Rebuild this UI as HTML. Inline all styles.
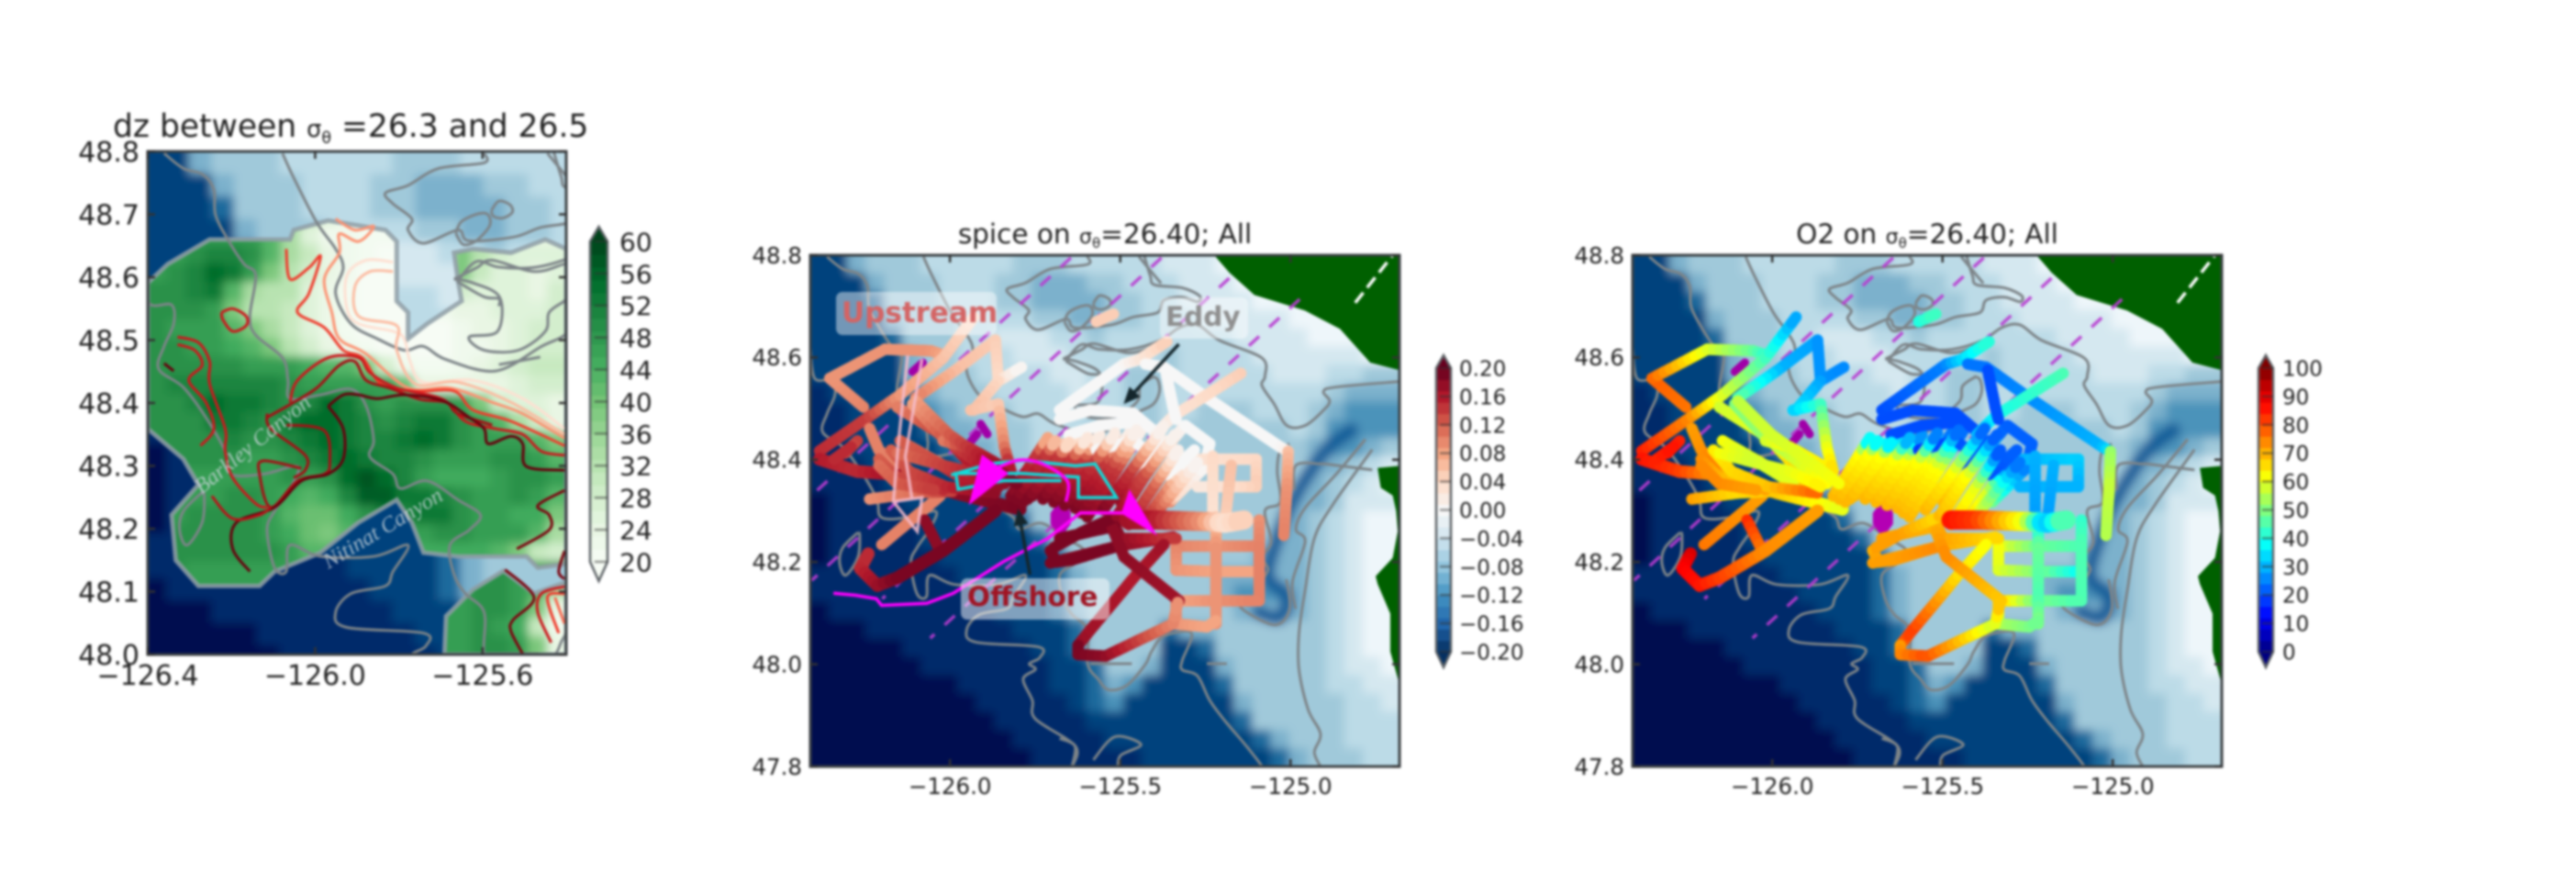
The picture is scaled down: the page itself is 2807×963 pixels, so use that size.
<!DOCTYPE html>
<html lang="en">
<head>
<meta charset="utf-8">
<title>dz, spice and O2 maps</title>
<style>
html,body{margin:0;padding:0;background:#fff;width:2807px;height:963px;overflow:hidden}
svg{display:block;filter:blur(1.2px)}
text{font-family:"DejaVu Sans","Liberation Sans",sans-serif;fill:#222}
</style>
</head>
<body>
<svg id="fig" xmlns="http://www.w3.org/2000/svg" width="2807" height="963" viewBox="0 0 2807 963">
<defs>
<filter id="soft" filterUnits="userSpaceOnUse" x="0" y="0" width="2807" height="963"><feGaussianBlur stdDeviation="5"/></filter>
<clipPath id="clip-p1"><rect x="161" y="165" width="456" height="548"/></clipPath>
<clipPath id="clip-p2"><rect x="883" y="278" width="642" height="557"/></clipPath>
<clipPath id="clip-p3"><rect x="1779" y="278" width="642" height="557"/></clipPath>
</defs>
<rect x="0" y="0" width="2807" height="963" fill="#fff"/>

<g id="panel-dz"></g>
<g id="panel-spice"></g>
<g id="panel-o2"></g>

<text x="123" y="149" font-size="34.5">dz between <tspan font-size="25.5">σ</tspan><tspan font-size="17.5" dy="7">θ</tspan><tspan dy="-7"> =26.3 and 26.5</tspan></text>
<text x="1204" y="265" text-anchor="middle" font-size="29.5">spice on <tspan font-size="22">σ</tspan><tspan font-size="15" dy="5">θ</tspan><tspan dy="-5">=26.40; All</tspan></text>
<text x="2100" y="265" text-anchor="middle" font-size="29.5">O2 on <tspan font-size="22">σ</tspan><tspan font-size="15" dy="5">θ</tspan><tspan dy="-5">=26.40; All</tspan></text>

<g id="dz-annotations">
<text transform="translate(280,490) rotate(-39)" text-anchor="middle" font-size="24" font-style="italic" style="font-family:'Liberation Serif',serif;fill:#ccd6dc;opacity:.8">Barkley Canyon</text>
<text transform="translate(421,582) rotate(-31)" text-anchor="middle" font-size="24" font-style="italic" style="font-family:'Liberation Serif',serif;fill:#ccd6dc;opacity:.8">Nitinat Canyon</text>
</g>

<g id="spice-annotations">
<rect x="911" y="318" width="175" height="47" rx="7" fill="#fff" opacity=".45"/>
<text x="917" y="351" font-size="31" font-weight="bold" style="fill:#d46464">Upstream</text>
<rect x="1264" y="324" width="96" height="45" rx="7" fill="#fff" opacity=".45"/>
<text x="1270" y="355" font-size="29.5" font-weight="bold" style="fill:#8f8f8f">Eddy</text>
<rect x="1047" y="630" width="162" height="45" rx="7" fill="#fff" opacity=".5"/>
<text x="1054" y="660" font-size="29.5" font-weight="bold" style="fill:#a01423">Offshore</text>
</g>
</svg>

<script>
// ---------- shared map values (degrees) ----------
const bathyColors = ["#000f50","#00296b","#03437d","#1c6a9d","#4b93ba","#7cb1cc","#a0c9da","#bcdbe7","#d5e8f0","#eef6fa"];
const bathyRows = [
[2,2,5,6,6,6,7,7,7,7,7,6,6,6,7,7,7,7,7,8,8,8,9,9,9,9,9,9,9,9,9,9],
[2,2,2,5,6,6,6,7,7,7,6,6,5,5,5,6,6,7,7,7,8,8,8,9,9,9,9,9,9,9,9,9],
[2,2,2,3,6,6,6,7,7,7,6,6,5,5,5,5,6,6,7,7,8,8,8,8,9,9,9,9,9,9,9,9],
[2,2,2,2,5,6,6,6,7,7,7,7,6,6,5,5,6,6,7,7,7,8,8,8,8,8,9,9,9,9,9,9],
[2,2,2,2,3,6,6,6,7,7,8,8,8,7,7,6,7,7,7,7,7,7,7,8,8,8,8,9,9,9,9,9],
[2,2,2,2,2,5,6,6,7,7,7,8,8,8,7,7,7,7,7,6,7,7,7,7,8,8,8,8,8,8,9,9],
[2,2,2,2,2,5,6,6,6,7,7,7,7,8,8,7,7,6,6,6,7,7,7,7,7,8,8,8,7,7,6,6],
[1,2,2,2,2,3,5,6,6,6,7,7,7,7,8,7,7,6,6,7,7,7,7,7,7,7,7,7,6,5,5,5],
[1,1,2,2,2,2,4,5,6,6,6,7,7,7,7,7,7,6,6,7,7,6,6,6,7,7,7,6,5,4,4,4],
[1,1,2,2,2,2,3,5,5,6,6,6,7,7,7,6,6,6,6,7,6,6,6,6,6,6,7,6,4,4,4,4],
[1,1,2,2,2,2,2,3,5,5,6,6,7,7,6,6,6,6,6,6,6,6,6,6,6,6,6,5,4,4,5,6],
[1,1,1,2,2,2,2,2,3,5,5,6,6,6,6,6,6,6,6,6,6,6,6,6,6,6,6,5,5,6,7,8],
[1,1,1,1,2,2,2,2,2,3,5,6,6,6,6,6,6,6,6,6,6,6,6,6,6,6,6,5,6,7,8,9],
[0,1,1,1,1,2,2,2,2,2,3,5,6,6,6,6,6,6,6,6,6,6,6,6,6,6,5,5,6,8,8,8],
[0,1,1,1,1,1,2,2,2,2,2,3,6,6,6,6,6,6,6,6,6,6,6,6,6,6,5,6,7,8,9,9],
[0,1,1,1,1,1,2,2,2,2,2,2,3,6,6,6,6,6,6,6,6,6,6,6,6,5,5,6,7,8,9,9],
[0,1,1,1,1,1,1,2,2,2,2,2,2,3,6,6,6,6,6,6,6,6,6,6,5,5,5,6,7,8,9,9],
[1,1,1,1,1,1,1,1,2,2,2,2,2,3,5,6,6,6,6,6,6,6,5,5,5,5,5,6,7,8,9,9],
[1,1,1,1,1,1,1,1,1,2,2,2,2,3,5,6,6,6,6,6,6,6,5,4,4,4,5,6,7,8,9,9],
[0,1,1,1,1,1,1,1,1,1,2,2,2,3,5,6,6,6,6,6,6,6,6,5,5,5,5,6,7,8,9,9],
[0,0,0,1,1,1,1,1,1,1,1,2,2,2,3,6,6,6,6,3,5,5,6,6,6,6,6,6,7,8,9,9],
[0,0,0,0,0,1,1,1,1,1,1,1,2,2,3,6,6,6,6,2,2,3,6,6,6,6,6,6,7,8,9,9],
[0,0,0,0,0,0,1,1,1,1,1,1,1,2,2,3,6,6,5,2,2,2,5,6,6,6,6,6,7,8,8,9],
[0,0,0,0,0,0,0,0,1,1,1,1,1,2,2,3,5,4,2,2,2,2,3,6,6,6,6,6,7,7,8,8],
[0,0,0,0,0,0,0,0,0,1,1,1,1,1,2,3,4,2,2,2,2,2,2,5,6,6,6,6,6,7,7,8],
[0,0,0,0,0,0,0,0,0,0,1,1,1,1,1,2,2,2,2,2,2,2,2,3,6,6,6,6,6,7,7,7],
[0,0,0,0,0,0,0,0,0,0,0,1,1,1,1,1,2,2,2,2,2,2,2,2,3,5,6,6,6,7,7,7],
[0,0,0,0,0,0,0,0,0,0,0,0,1,1,1,1,1,1,2,2,2,2,2,2,2,3,5,6,6,6,7,7]
];
const bathyLonStart = -126.41, bathyLonEnd = -124.68, bathyLatTop = 48.8, bathyLatBottom = 47.8;
const trenchLon = [-124.821,-124.898,-124.983,-125.032,-125.067,-125.011,-125.032,-125.095];
const trenchLat = [48.458,48.417,48.333,48.26,48.172,48.135,48.091,48.102];

// gray bathymetry contours, one array per line
const contourLon = [
[-126.361,-126.315,-126.27,-126.242,-126.238,-126.206,-126.17,-126.142,-126.156,-126.142,-126.078,-126.065,-126.06,-125.987,-125.914,-125.878,-125.86,-125.869,-125.814,-125.796,-125.732,-125.659,-125.605,-125.632,-125.678,-125.668,-125.641,-125.596,-125.596,-125.565,-125.534,-125.48,-125.426,-125.408,-125.372,-125.291,-125.318,-125.318,-125.273,-125.237,-125.191,-125.137,-125.101,-125.083],
[-126.41,-126.397,-126.343,-126.338,-126.361,-126.374,-126.315,-126.261,-126.215,-126.201,-126.124,-126.042,-126.06,-126.097,-126.115,-126.097,-126.069,-126.06,-125.987,-125.86,-125.778,-125.814,-125.832,-125.914,-125.951,-125.924,-125.741,-125.736,-125.767,-125.749,-125.785,-125.758,-125.749,-125.632,-125.641],
[-126.27,-126.315,-126.324,-126.306,-126.27,-126.265,-126.27],
[-126.078,-126.051,-125.996,-125.951,-125.933,-125.951,-125.914,-125.851,-125.787,-125.741,-125.687,-125.568,-125.459,-125.404,-125.385,-125.39,-125.408],
[-125.596,-125.596,-125.705,-125.778,-125.832,-125.814,-125.769,-125.778,-125.741,-125.659,-125.633,-125.525,-125.462,-125.39,-125.372,-125.318,-125.273,-125.268,-125.318,-125.399,-125.412,-125.43],
[-125.579,-125.561,-125.534,-125.529,-125.552,-125.574,-125.579],
[-125.664,-125.651,-125.615,-125.588,-125.583,-125.615,-125.646,-125.664],
[-125.668,-125.614,-125.577,-125.477,-125.404,-125.36],
[-125.668,-125.623,-125.559,-125.564,-125.632,-125.596,-125.514,-125.45,-125.441,-125.404],
[-125.445,-125.404,-125.38],
[-125.66,-125.615,-125.561,-125.471,-125.381,-125.327,-125.273,-125.21,-125.084,-125.075,-125.084,-125.048,-125.011,-124.957,-124.903,-124.885,-124.903,-124.867,-124.68],
[-125.66,-125.597,-125.561,-125.561],
[-125.561,-125.462],
[-125.003,-125.03,-125.039,-125.03,-125.075,-125.057,-125.083,-125.066,-125.084,-125.102,-125.146,-125.048,-125.003,-125.012],
[-124.76,-124.867,-124.912,-124.984,-124.989],
[-124.78,-124.867,-124.957,-124.984,-124.957,-124.994,-124.985],
[-124.76,-124.876,-124.93,-124.957,-124.975,-124.975,-124.948,-124.912,-124.93,-124.912],
[-125.579,-125.516,-125.439,-125.498,-125.507],
[-125.678,-125.633,-125.642],
[-125.588,-125.466],
[-125.246,-125.187]
];
const contourLat = [
[48.797,48.773,48.764,48.74,48.699,48.657,48.621,48.603,48.538,48.508,48.472,48.436,48.407,48.413,48.422,48.395,48.341,48.314,48.287,48.264,48.276,48.246,48.222,48.198,48.174,48.127,48.097,48.067,48.001,47.971,47.95,47.959,48.0,48.025,48.055,48.061,48.007,47.989,47.977,47.929,47.888,47.846,47.816,47.8],
[48.619,48.559,48.556,48.526,48.49,48.454,48.425,48.377,48.323,48.287,48.287,48.299,48.264,48.228,48.198,48.138,48.132,48.174,48.156,48.156,48.174,48.132,48.109,48.097,48.067,48.043,48.034,48.013,48.001,47.99,47.971,47.929,47.893,47.84,47.8],
[48.258,48.228,48.198,48.174,48.21,48.252,48.258],
[48.797,48.758,48.687,48.645,48.615,48.574,48.526,48.502,48.484,48.49,48.469,48.451,48.49,48.508,48.533,48.557,48.563],
[48.797,48.782,48.773,48.746,48.734,48.717,48.693,48.675,48.654,48.675,48.658,48.664,48.679,48.688,48.712,48.718,48.709,48.721,48.736,48.742,48.76,48.8],
[48.706,48.721,48.715,48.703,48.694,48.697,48.706],
[48.67,48.688,48.7,48.7,48.682,48.658,48.652,48.67],
[48.597,48.615,48.627,48.609,48.621,48.628],
[48.597,48.591,48.568,48.514,48.505,48.484,48.484,48.514,48.544,48.562],
[48.797,48.764,48.745],
[48.593,48.625,48.616,48.616,48.634,48.658,48.664,48.634,48.599,48.563,48.545,48.509,48.467,48.467,48.497,48.515,48.533,48.542,48.553],
[48.593,48.569,48.566,48.554],
[48.461,48.473],
[48.431,48.419,48.377,48.317,48.3,48.24,48.21,48.186,48.162,48.121,48.111,48.077,48.107,48.166],
[48.38,48.389,48.392,48.389,48.341],
[48.44,48.371,48.306,48.264,48.24,48.162,48.108],
[48.42,48.312,48.246,48.145,48.061,47.989,47.911,47.864,47.828,47.8],
[47.813,47.858,47.843,47.822,47.8],
[47.855,47.84,47.8],
[48.001,48.001],
[48.001,48.001]
];

// land polygons
const landLon = [
[-125.224,-125.18,-125.106,-124.958,-124.855,-124.766,-124.68,-124.68],
[-124.68,-124.744,-124.735,-124.70,-124.69,-124.685,-124.7,-124.75,-124.744,-124.707,-124.707,-124.68]
];
const landLat = [
[48.8,48.766,48.722,48.692,48.656,48.59,48.575,48.8],
[48.388,48.384,48.345,48.33,48.30,48.26,48.208,48.172,48.157,48.099,48.025,47.96]
];
const riverLon = [-124.81,-124.7];
const riverLat = [48.707,48.8];

// section lines: start and end in degrees
const sectionLonStart = [-125.645,-125.379,-125.18,-124.973];
const sectionLatStart = [48.795,48.795,48.755,48.714];
const sectionLonEnd = [-126.39,-126.406,-126.199,-126.058];
const sectionLatEnd = [48.34,48.164,48.128,48.051];
const mooringLon = -125.675, mooringLat = 48.285;
const moorLonA = [-126.11,-125.946,-125.91], moorLatA = [48.572,48.43,48.47];
const moorLonB = [-126.08,-125.92,-125.89], moorLatB = [48.59,48.45,48.45];

// tracks: lon, lat, spice and O2 per vertex
const trackLon = [
[-126.254,-126.353,-126.191,-126.056,-126.015],
[-126.383,-126.236,-126.146,-126.02,-125.93],
[-126.383,-126.272,-126.155,-125.984,-125.794],
[-126.155,-126.011,-125.867],
[-126.146,-126.02,-125.876],
[-126.11,-126.029,-125.84],
[-126.02,-125.948,-125.821],
[-125.867,-125.984,-126.101],
[-125.867,-125.858,-125.79],
[-125.858,-125.93],
[-125.939,-125.858,-125.84,-125.821],
[-126.2,-126.029],
[-126.074,-126.029],
[-126.24,-126.263,-126.213,-126.155,-126.02,-125.867],
[-126.236,-126.101,-125.993],
[-126.272,-126.308],
[-126.236,-126.209,-126.164],
[-126.209,-126.155,-126.074,-126.02],
[-126.146,-126.056,-125.939],
[-125.821,-125.735,-125.713],
[-125.785,-125.68,-125.668],
[-125.758,-125.657,-125.632],
[-125.695,-125.6,-125.56],
[-125.632,-125.53,-125.47],
[-125.597,-125.501,-125.435],
[-125.525,-125.426,-125.363],
[-125.498,-125.426,-125.318],
[-125.426,-125.359,-125.3],
[-125.354,-125.335,-125.246],
[-125.678,-125.588,-125.462,-125.399,-125.381],
[-125.678,-125.489,-125.444,-125.363],
[-125.426,-125.372,-125.246,-125.03,-125.007],
[-125.007,-125.011,-125.02],
[-125.146,-125.345,-125.399],
[-125.367,-125.345,-125.336],
[-125.309,-125.237,-125.246],
[-125.57,-125.52],
[-125.264,-125.101,-125.101,-125.273],
[-125.228,-125.228],
[-125.174,-125.192],
[-125.336,-125.21,-125.092],
[-125.336,-125.336,-125.21,-125.092],
[-125.092,-125.092,-125.092],
[-125.327,-125.228,-125.101],
[-125.219,-125.219,-125.219,-125.219],
[-125.336,-125.336,-125.246,-125.219],
[-125.705,-125.507,-125.345],
[-125.705,-125.687,-125.642,-125.507],
[-125.678,-125.516,-125.498,-125.336],
[-125.624,-125.588,-125.453,-125.372],
[-125.489,-125.327],
[-125.525,-125.489],
[-125.624,-125.624,-125.543,-125.345,-125.331],
[-125.695,-125.614,-125.515],
[-125.651,-125.561,-125.462],
[-125.57,-125.462,-125.399],
[-125.453,-125.372,-125.291],
[-125.363,-125.282],
[-125.803,-125.707,-125.69],
[-125.771,-125.671,-125.65],
[-125.727,-125.632,-125.596],
[-125.663,-125.564,-125.515],
[-125.615,-125.516,-125.452],
[-125.55,-125.46,-125.376],
[-125.51,-125.42,-125.34],
[-125.475,-125.394,-125.33],
[-125.39,-125.347,-125.273],
[-126.173,-126.119,-126.011,-125.867],
[-126.155,-126.056,-125.948,-125.858],
[-126.209,-126.155,-126.047],
[-126.101,-126.002,-125.876,-125.804],
[-126.34,-126.29]
];
const trackLat = [
[48.503,48.559,48.616,48.613,48.604],
[48.417,48.485,48.527,48.599,48.679],
[48.401,48.377,48.371,48.335,48.303],
[48.503,48.443,48.338],
[48.437,48.389,48.341],
[48.509,48.449,48.353],
[48.437,48.425,48.377],
[48.634,48.575,48.521],
[48.634,48.554,48.581],
[48.554,48.497],
[48.497,48.509,48.425,48.377],
[48.234,48.329],
[48.282,48.222],
[48.216,48.187,48.154,48.169,48.222,48.3],
[48.323,48.335,48.338],
[48.437,48.413],
[48.461,48.419,48.389],
[48.401,48.365,48.365,48.341],
[48.437,48.401,48.353],
[48.329,48.42,48.443],
[48.317,48.417,48.431],
[48.329,48.415,48.437],
[48.317,48.41,48.449],
[48.305,48.4,48.455],
[48.288,48.39,48.461],
[48.264,48.37,48.437],
[48.317,48.375,48.461],
[48.282,48.345,48.401],
[48.317,48.33,48.389],
[48.479,48.497,48.491,48.455,48.425],
[48.497,48.587,48.596,48.631],
[48.587,48.581,48.521,48.425,48.416],
[48.416,48.341,48.252],
[48.569,48.485,48.449],
[48.575,48.503,48.479],
[48.467,48.431,48.407],
[48.67,48.685],
[48.401,48.401,48.347,48.347],
[48.407,48.288],
[48.389,48.282],
[48.231,48.231,48.231],
[48.231,48.184,48.181,48.181],
[48.282,48.231,48.124],
[48.124,48.124,48.124],
[48.288,48.228,48.124,48.079],
[48.121,48.079,48.073,48.085],
[48.198,48.231,48.249],
[48.222,48.2,48.204,48.231],
[48.246,48.27,48.246,48.246],
[48.037,48.067,48.175,48.234],
[48.21,48.124],
[48.27,48.21],
[48.037,48.019,48.016,48.079,48.121],
[48.228,48.258,48.288],
[48.449,48.467,48.473],
[48.419,48.437,48.407],
[48.389,48.425,48.383],
[48.371,48.419],
[48.323,48.42,48.437],
[48.323,48.415,48.434],
[48.323,48.41,48.443],
[48.311,48.405,48.452],
[48.296,48.395,48.458],
[48.302,48.385,48.461],
[48.29,48.375,48.449],
[48.273,48.355,48.419],
[48.3,48.335,48.395],
[48.419,48.377,48.347,48.335],
[48.413,48.395,48.377,48.347],
[48.389,48.353,48.341],
[48.515,48.449,48.389,48.353],
[48.401,48.425]
];
const trackSpice = [
[.10,.09,.09,.09,.08],
[.15,.14,.09,.06,.04],
[.16,.15,.17,.18,.19],
[.1,.14,.18],
[.09,.12,.17],
[.08,.12,.18],
[.1,.14,.18],
[.05,.06,.1],
[.05,.04,.0],
[.04,.06],
[.06,.05,.1,.17],
[.1,.1],
[.18,.18],
[.15,.15,.17,.19,.19,.19],
[.09,.11,.14],
[.14,.13],
[.1,.1,.1],
[.12,.13,.14,.15],
[.12,.13,.16],
[.19,.14,.06],
[.19,.14,.02],
[.19,.14,.0],
[.19,.14,0],
[.19,.14,0],
[.19,.14,0],
[.18,.14,0],
[.18,.13,0],
[.16,.1,0],
[.11,.04,0],
[0,0,0,0,0],
[0,.0,.02,.05],
[0,0,0,.0,.01],
[.06,.09,.1],
[.05,.03,0],
[0,0,0],
[0,0,0],
[.05,.05],
[.03,.04,.05,.02],
[.04,.03],
[.06,.05],
[.1,.09,.1],
[.1,.09,.08,.08],
[.09,.1,.1],
[.08,.09,.1],
[.05,.09,.09,.09],
[.1,.09,.08,.08],
[.19,.18,.16],
[.19,.19,.19,.19],
[.19,.19,.18,.14],
[.18,.17,.16,.17],
[.18,.17],
[.18,.18],
[.19,.19,.18,.1,.09],
[.19,.19,.19],
[0,0,0],
[0,0,0],
[0,0,0],
[0,0],
[.19,.14,.04],
[.19,.14,.01],
[.19,.14,0],
[.19,.14,0],
[.19,.14,0],
[.19,.14,0],
[.18,.13,0],
[.17,.12,0],
[.14,.08,0],
[.12,.13,.15,.18],
[.11,.13,.15,.18],
[.11,.12,.14],
[.08,.12,.17,.19],
[.15,.15]
];
const trackO2 = [
[76,78,60,48,42],
[85,74,60,45,28],
[86,82,72,68,60],
[58,60,72],
[60,62,70],
[50,52,63],
[58,62,64],
[28,30,46],
[27,27,26],
[28,34],
[32,42,60,66],
[76,72],
[84,76],
[92,88,86,82,74,72],
[72,66,68],
[84,86],
[72,73,75],
[74,70,68,72],
[62,58,60],
[70,62,30],
[70,62,28],
[70,62,26],
[70,62,22],
[70,62,20],
[70,62,20],
[70,62,18],
[70,62,20],
[68,58,18],
[50,44,24],
[20,20,20,20,20],
[20,25,33,42],
[24,24,26,30,35],
[52,57,55],
[45,40,30],
[20,20,20],
[22,22,22],
[40,44],
[30,33,30,30],
[30,28],
[30,28],
[62,48,45],
[62,60,50,38],
[42,45,45],
[70,50,45],
[30,48,45,50],
[70,55,50,48],
[72,72,66],
[70,72,72,74],
[72,70,72,66],
[76,82,66,62],
[74,68],
[70,74],
[72,74,80,58,70],
[72,72,66],
[20,20,20],
[18,20,22],
[20,20,24],
[20,22],
[70,62,30],
[70,62,28],
[70,62,24],
[70,62,20],
[70,62,20],
[70,62,20],
[70,62,19],
[68,60,18],
[60,50,22],
[64,66,68,78],
[62,58,60,64],
[74,74,72],
[56,58,60,62],
[84,86]
];
const trackThickIndex = [2,13];
const thickBandLon = [-125.475,-125.39,-125.246,-125.192,-125.137];
const thickBandLat = [48.282,48.282,48.279,48.276,48.282];
const thickBandSpice = [.17,.16,.09,.03,.05];
const thickBandO2 = [86,82,60,30,48];

// spice panel overlays
const pinkLonA = [-126.124,-126.152,-126.166,-126.096,-126.082,-126.166];
const pinkLatA = [48.604,48.428,48.318,48.26,48.326,48.318];
const pinkLonB = [-126.082,-126.131,-126.112];
const pinkLatB = [48.597,48.406,48.326];
const driftLon = [-126.342,-126.279,-126.216,-126.201,-126.068,-125.99,-125.842,-125.715,-125.617,-125.49];
const driftLat = [48.139,48.135,48.128,48.115,48.119,48.139,48.201,48.245,48.296,48.296];
const loopLon = [-125.659,-125.656,-125.729,-125.8,-125.884];
const loopLat = [48.318,48.359,48.392,48.399,48.377];
const headALon = [-125.391,-125.473,-125.497], headALat = [48.251,48.342,48.295];
const headBLon = [-125.945,-125.906,-125.828], headBLat = [48.311,48.41,48.373];
const eddyCoreLon = [-125.997,-125.884,-125.786,-125.631,-125.574,-125.511,-125.623,-125.623,-125.786,-125.983,-125.976,-125.842,-125.673];
const eddyCoreLat = [48.37,48.392,48.399,48.388,48.392,48.326,48.326,48.366,48.373,48.373,48.342,48.359,48.359];
const eddyArrowLon = [-125.328,-125.49], eddyArrowLat = [48.626,48.509];
const offshoreArrowLon = [-125.765,-125.8], offshoreArrowLat = [48.175,48.304];

// dz panel fields
const dzLonStart = -126.4, dzLonEnd = -125.4, dzLatTop = 48.8, dzLatBottom = 48.0;
const dzRows = [
[47,47,47,47,47,47,45,39,30,26,22,21,21,21,21,26,30,26,24,24,24,24],
[47,47,47,47,47,47,45,39,30,26,22,21,21,21,21,26,30,26,24,24,24,24],
[47,47,47,47,47,47,45,39,30,26,22,21,21,21,21,26,30,26,24,24,24,24],
[47,47,47,47,47,47,45,39,30,26,22,21,21,21,21,26,30,26,24,24,24,24],
[47,47,47,47,47,47,43,34,26,22,22,21,21,21,21,26,30,26,24,24,24,24],
[47,47,49,51,51,49,43,34,30,24,22,21,20,20,21,26,39,32,28,26,26,26],
[47,49,51,55,53,47,39,32,28,24,22,20,20,20,21,26,39,30,26,26,24,26],
[49,49,51,53,43,34,32,32,26,23,21,20,20,20,21,24,28,26,26,26,24,28],
[49,49,49,47,39,32,32,30,26,23,21,20,20,20,20,22,24,24,26,26,26,28],
[49,47,47,47,43,39,34,30,26,23,21,20,20,20,20,20,22,24,24,26,28,28],
[49,49,47,47,45,43,39,32,28,24,22,21,20,20,20,20,22,22,24,26,28,28],
[49,49,49,49,49,47,47,47,45,43,43,39,28,22,21,21,22,24,26,28,30,30],
[49,51,51,51,51,51,51,49,47,47,47,47,47,41,24,24,24,24,24,26,28,28],
[49,49,51,55,53,53,51,49,51,55,53,49,47,49,49,49,47,39,28,26,26,24],
[49,49,49,53,53,51,49,53,55,55,53,51,49,51,53,53,49,47,43,34,28,24],
[49,49,49,49,51,49,49,51,53,55,53,51,51,53,55,53,49,47,47,47,43,39],
[49,49,49,49,49,47,47,49,51,53,55,53,51,51,49,47,47,47,49,49,47,43],
[49,47,47,47,47,47,47,49,47,49,55,58,55,51,47,45,45,45,47,49,49,47],
[49,47,47,47,49,49,47,45,43,45,51,57,57,53,53,51,49,47,47,49,47,43],
[49,47,49,49,49,49,47,43,41,41,45,49,53,51,53,53,49,47,47,45,45,39],
[49,49,49,49,49,49,47,45,41,39,43,49,49,47,47,49,49,47,47,47,43,34],
[49,49,49,49,49,49,49,47,43,43,47,49,47,47,45,45,45,45,43,39,30,28],
[49,49,47,47,47,47,47,47,49,49,49,47,47,47,47,45,45,47,49,47,47,49],
[49,49,47,47,47,47,47,47,47,47,47,47,47,47,47,47,47,49,49,47,43,34],
[47,47,47,47,47,47,47,47,47,47,47,47,47,47,47,47,47,49,49,47,39,24],
[47,47,47,47,47,47,47,47,47,47,47,47,47,47,47,47,47,49,47,45,30,22],
[47,47,47,47,47,47,47,47,47,47,47,47,47,47,47,47,47,49,49,47,39,24]
];
const dzMaskLon = [
[-126.4,-126.352,-126.306,-126.252,-126.06,-126.051,-125.969,-125.832,-125.805,-125.805,-125.778,-125.778,-125.732,-125.65,-125.659,-125.668,-125.623,-125.532,-125.45,-125.4,-125.4,-125.468,-125.495,-125.659,-125.741,-125.769,-125.805,-125.896,-125.987,-126.097,-126.133,-126.279,-126.333,-126.343,-126.279,-126.315,-126.4],
[-125.691,-125.687,-125.623,-125.55,-125.477,-125.4,-125.4,-125.691]
];
const dzMaskLat = [
[48.591,48.621,48.639,48.66,48.66,48.675,48.69,48.675,48.657,48.562,48.544,48.502,48.526,48.562,48.597,48.639,48.645,48.639,48.66,48.645,48.144,48.138,48.156,48.156,48.162,48.21,48.246,48.21,48.162,48.132,48.109,48.109,48.15,48.222,48.27,48.311,48.359],
[48.0,48.061,48.103,48.133,48.097,48.115,48.0,48.0]
];
const redContourLevel = [.1,.25,.4,.6,.75,.75,.85,.85,.85,1,1,.75,.75,1,.8,.95,.95,.95,.75,.6,.5];
const redContourLon = [
[-125.814,-125.878,-125.924,-125.924,-125.896,-125.814,-125.787,-125.773,-125.741,-125.623,-125.504,-125.404],
[-125.814,-125.869,-125.905,-125.896,-125.805,-125.805,-125.76,-125.659,-125.532,-125.404],
[-125.951,-125.905,-125.86,-125.896,-125.942,-125.942,-125.978,-125.96,-125.942,-125.878,-125.778,-125.678,-125.577,-125.504,-125.404],
[-126.069,-126.06,-126.015,-125.987,-126.015,-126.042,-125.978,-125.933,-125.887,-125.842,-125.76,-125.668,-125.623,-125.532,-125.404],
[-126.06,-126.042,-125.969,-125.896,-125.869,-125.805,-125.696,-125.641,-125.568,-125.504,-125.459,-125.404],
[-126.224,-126.197,-126.165,-126.165,-126.197,-126.22,-126.224],
[-126.115,-126.051,-125.996,-125.942,-125.905,-125.878,-125.823,-125.75,-125.687,-125.659,-125.577],
[-126.115,-126.106,-126.024,-126.024,-126.051],
[-126.069,-125.978,-125.965,-125.978,-126.042,-126.106,-126.133,-126.124,-126.033],
[-125.969,-125.933,-125.896,-125.851,-125.787,-125.696,-125.632,-125.596,-125.586,-125.532,-125.504,-125.495,-125.404],
[-125.969,-125.933,-125.933,-125.969,-126.033,-126.097,-126.188,-126.197,-126.156],
[-126.329,-126.279,-126.252,-126.252,-126.215,-126.215,-126.197,-126.142,-126.115],
[-126.329,-126.288,-126.27,-126.302,-126.261,-126.242,-126.274],
[-126.361,-126.338],
[-126.247,-126.197,-126.133,-126.106],
[-125.404,-125.468,-125.441,-125.441,-125.518],
[-125.546,-125.477,-125.527,-125.532,-125.504],
[-125.404,-125.418,-125.404],
[-125.404,-125.459,-125.468,-125.436],
[-125.404,-125.445,-125.418],
[-125.427,-125.404]
];
const redContourLat = [
[48.624,48.627,48.603,48.55,48.526,48.514,48.502,48.466,48.433,48.436,48.407,48.359],
[48.609,48.609,48.585,48.538,48.523,48.484,48.43,48.433,48.401,48.35],
[48.693,48.675,48.681,48.657,48.669,48.639,48.597,48.544,48.502,48.478,48.424,48.424,48.401,48.383,48.344],
[48.645,48.597,48.615,48.633,48.574,48.544,48.52,48.484,48.472,48.43,48.419,48.419,48.389,48.371,48.332],
[48.401,48.436,48.472,48.472,48.448,48.424,48.406,48.371,48.359,48.35,48.323,48.317],
[48.544,48.55,48.538,48.523,48.514,48.532,48.544],
[48.377,48.401,48.424,48.46,48.466,48.436,48.424,48.406,48.401,48.383,48.365],
[48.383,48.359,48.317,48.293,48.281],
[48.365,48.356,48.305,48.287,48.276,48.234,48.287,48.308,48.296],
[48.395,48.413,48.413,48.407,48.413,48.404,48.377,48.359,48.335,48.347,48.335,48.299,48.293],
[48.395,48.359,48.311,48.287,48.276,48.234,48.21,48.168,48.132],
[48.505,48.496,48.466,48.43,48.359,48.323,48.281,48.24,48.234],
[48.493,48.484,48.46,48.436,48.401,48.359,48.332],
[48.463,48.451],
[48.252,48.216,48.222,48.234],
[48.261,48.237,48.222,48.198,48.168],
[48.135,48.091,48.055,48.037,48.001],
[48.165,48.132,48.12],
[48.108,48.097,48.067,48.019],
[48.097,48.091,48.034],
[48.091,48.049]
];

// axis ticks and colorbar labels
const dzLonTicks = [-126.4,-126.0,-125.6];
const dzLatTicks = [48.0,48.1,48.2,48.3,48.4,48.5,48.6,48.7,48.8];
const mapLonTicks = [-126.0,-125.5,-125.0];
const mapLatTicks = [47.8,48.0,48.2,48.4,48.6,48.8];
const dzBarTicks = [20,24,28,32,36,40,44,48,52,56,60];
const spiceBarTicks = [-0.20,-0.16,-0.12,-0.08,-0.04,0.00,0.04,0.08,0.12,0.16,0.20];
const o2BarTicks = [0,10,20,30,40,50,60,70,80,90,100];

// ---------- colour scales ----------
function hexRgb(h){return [parseInt(h.slice(1,3),16),parseInt(h.slice(3,5),16),parseInt(h.slice(5,7),16)];}
function ramp(stops,t){
  t=Math.max(0,Math.min(1,t));
  const p=t*(stops.length-1),i=Math.min(stops.length-2,Math.floor(p)),f=p-i;
  const a=hexRgb(stops[i]),b=hexRgb(stops[i+1]);
  return "rgb("+a.map((v,k)=>Math.round(v+(b[k]-v)*f)).join(",")+")";
}
const greensStops=["#f7fcf5","#e5f5e0","#c7e9c0","#a1d99b","#74c476","#41ab5d","#238b45","#006d2c","#00441b"];
const rdbuStops=["#053061","#2166ac","#4393c3","#92c5de","#d1e5f0","#f7f7f7","#fddbc7","#f4a582","#d6604d","#b2182b","#67001f"];
function dzColor(v){return ramp(greensStops,(v-20)/40);}
function spiceColor(v){return ramp(rdbuStops,(v+0.2)/0.4);}
function jetColor(v){
  const t=Math.max(0,Math.min(1,v/100));
  const c=x=>Math.round(255*Math.max(0,Math.min(1,x)));
  return "rgb("+c(1.5-Math.abs(4*t-3))+","+c(1.5-Math.abs(4*t-2))+","+c(1.5-Math.abs(4*t-1))+")";
}
function o2Color(v){return jetColor(v);}
function redLineColor(l){
  const lv=[.1,.25,.4,.6,.75,.85,1],col=["#fee0d2","#fcbba1","#fc9272","#ef3b2c","#cb181d","#a50f15","#67000d"];
  let i=0;while(i<lv.length-2&&l>lv[i+1])i++;
  const f=(l-lv[i])/(lv[i+1]-lv[i]),a=hexRgb(col[i]),b=hexRgb(col[i+1]);
  return "rgb("+a.map((v,k)=>Math.round(v+(b[k]-v)*f)).join(",")+")";
}

// ---------- drawing helpers ----------
const NS="http://www.w3.org/2000/svg";
function make(tag,parent,props){
  const el=document.createElementNS(NS,tag);
  for(const k in props)el.setAttribute(k,props[k]);
  parent.appendChild(el);
  return el;
}
function axes(left,right,top,bottom,lonMin,lonMax,latMin,latMax){
  return {left,right,top,bottom,
    x:lon=>left+(lon-lonMin)/(lonMax-lonMin)*(right-left),
    y:lat=>top+(latMax-lat)/(latMax-latMin)*(bottom-top)};
}
function pointsOf(ax,lons,lats){return lons.map((v,i)=>ax.x(v).toFixed(1)+","+ax.y(lats[i]).toFixed(1)).join(" ");}
function smoothPath(ax,lons,lats){
  const p=lons.map((v,i)=>[ax.x(v),ax.y(lats[i])]);
  let d="M"+p[0][0].toFixed(1)+" "+p[0][1].toFixed(1);
  for(let i=0;i<p.length-1;i++){
    const a=p[Math.max(0,i-1)],b=p[i],c=p[i+1],e=p[Math.min(p.length-1,i+2)];
    const c1x=b[0]+(c[0]-a[0])/6,c1y=b[1]+(c[1]-a[1])/6,c2x=c[0]-(e[0]-b[0])/6,c2y=c[1]-(e[1]-b[1])/6;
    d+="C"+c1x.toFixed(1)+" "+c1y.toFixed(1)+" "+c2x.toFixed(1)+" "+c2y.toFixed(1)+" "+c[0].toFixed(1)+" "+c[1].toFixed(1);
  }
  return d;
}

function drawBathy(parent,ax){
  const g=make("g",parent,{filter:"url(#soft)"});
  
  
  const rows=bathyRows.length,cols=bathyRows[0].length;
  const dLon=(bathyLonEnd-bathyLonStart)/cols,dLat=(bathyLatTop-bathyLatBottom)/rows;
  bathyRows.forEach((row,j)=>row.forEach((v,i)=>{
    let x0=ax.x(bathyLonStart+i*dLon),x1=ax.x(bathyLonStart+(i+1)*dLon);
    let y0=ax.y(bathyLatTop-j*dLat),y1=ax.y(bathyLatTop-(j+1)*dLat);
    if(i===0)x0-=30; if(i===cols-1)x1+=30; if(j===0)y0-=30; if(j===rows-1)y1+=30;
    const r=make("rect",g,{x:x0.toFixed(1),y:y0.toFixed(1),width:(x1-x0+.6).toFixed(1),height:(y1-y0+.6).toFixed(1),fill:bathyColors[v]});
    
    
  }));
  const t=make("path",g,{d:smoothPath(ax,trenchLon,trenchLat),fill:"none",stroke:"#0f5c98","stroke-width":15,"stroke-linecap":"round"});
  
  
}
function drawLand(parent,ax){
  landLon.forEach((lons,i)=>{
    const p=make("polygon",parent,{points:pointsOf(ax,lons,landLat[i]),fill:"#006000"});
    
    
  });
  const r=make("polyline",parent,{points:pointsOf(ax,riverLon,riverLat),fill:"none",stroke:"#fff","stroke-width":3.5,"stroke-dasharray":"14 7"});
  
  
}
function drawContours(parent,ax){
  contourLon.forEach((lons,i)=>{
    const p=make("path",parent,{d:smoothPath(ax,lons,contourLat[i]),fill:"none",stroke:"#7d8488","stroke-width":3});
    
    
  });
}
function drawSections(parent,ax){
  sectionLonStart.forEach((lon,i)=>{
    const l=make("line",parent,{x1:ax.x(lon),y1:ax.y(sectionLatStart[i]),x2:ax.x(sectionLonEnd[i]),y2:ax.y(sectionLatEnd[i]),stroke:"#b83cd0","stroke-width":3.5,"stroke-dasharray":"15 15","stroke-opacity":.9});
    
    
  });
  const mx=ax.x(mooringLon),my=ax.y(mooringLat);
  const d=make("polygon",parent,{points:[mx,my-21,mx+11,my-6,mx+11,my+6,mx,my+21,mx-11,my+6,mx-11,my-6].join(","),fill:"#b400b4"});
  
  
  moorLonA.forEach((lon,i)=>{
    const l=make("line",parent,{x1:ax.x(lon),y1:ax.y(moorLatA[i]),x2:ax.x(moorLonB[i]),y2:ax.y(moorLatB[i]),stroke:"#a000a8","stroke-width":9,"stroke-linecap":"round"});
    
    
  });
}
function drawOneTrack(parent,ax,lons,lats,vals,colorFn,width){
  const g=make("g",parent,{"stroke-width":width,"stroke-linecap":"round"});
  
  
  for(let i=0;i<lons.length-1;i++){
    const x0=ax.x(lons[i]),y0=ax.y(lats[i]),x1=ax.x(lons[i+1]),y1=ax.y(lats[i+1]);
    const n=Math.max(1,Math.ceil(Math.hypot(x1-x0,y1-y0)/8));
    for(let k=0;k<n;k++){
      const a=k/n,b=(k+1)/n,m=(a+b)/2;
      const s=make("line",g,{x1:(x0+(x1-x0)*a).toFixed(1),y1:(y0+(y1-y0)*a).toFixed(1),x2:(x0+(x1-x0)*b).toFixed(1),y2:(y0+(y1-y0)*b).toFixed(1),stroke:colorFn(vals[i]+(vals[i+1]-vals[i])*m)});
      
      
    }
  }
}
function drawTracks(parent,ax,vals,band,colorFn){
  trackLon.forEach((lons,i)=>{
    drawOneTrack(parent,ax,lons,trackLat[i],vals[i],colorFn,trackThickIndex.includes(i)?14:12.5);
  });
  drawOneTrack(parent,ax,thickBandLon,thickBandLat,band,colorFn,21);
}
function drawFrame(parent,ax,lonTicks,latTicks,fontSize,lonDigits,labelGap,xLabelY){
  const f=make("rect",parent,{x:ax.left,y:ax.top,width:ax.right-ax.left,height:ax.bottom-ax.top,fill:"none",stroke:"#3a3f42","stroke-width":3});
  
  
  lonTicks.forEach(v=>{
    const x=ax.x(v);
    [[ax.bottom,ax.bottom-8],[ax.top,ax.top+8]].forEach(p=>{
      const t=make("line",parent,{x1:x,x2:x,y1:p[0],y2:p[1],stroke:"#333","stroke-width":2.5});
      
      
    });
    const l=make("text",parent,{x:x,y:xLabelY,"text-anchor":"middle","font-size":fontSize});
    
    
    l.textContent="\u2212"+Math.abs(v).toFixed(lonDigits);
  });
  latTicks.forEach(v=>{
    const y=ax.y(v);
    [[ax.left,ax.left+8],[ax.right,ax.right-8]].forEach(p=>{
      const t=make("line",parent,{y1:y,y2:y,x1:p[0],x2:p[1],stroke:"#333","stroke-width":2.5});
      
      
    });
    const l=make("text",parent,{x:ax.left-labelGap,y:y+fontSize*.36,"text-anchor":"end","font-size":fontSize});
    
    
    l.textContent=v.toFixed(1);
  });
}
function drawColorbar(parent,x0,x1,top,bottom,tipTop,tipBottom,ticks,colorFn,labelX,fontSize,digits,name){
  const g=make("g",parent,{});
  
  
  const vMin=ticks[0],vMax=ticks[ticks.length-1],bands=25,mid=(x0+x1)/2;
  const y=v=>bottom-(v-vMin)/(vMax-vMin)*(bottom-top);
  for(let i=0;i<bands;i++){
    const a=vMin+(vMax-vMin)*i/bands,b=vMin+(vMax-vMin)*(i+1)/bands;
    const r=make("rect",g,{x:x0,y:y(b).toFixed(1),width:x1-x0,height:(y(a)-y(b)+.6).toFixed(1),fill:colorFn((a+b)/2)});
    
    
  }
  const up=make("polygon",g,{points:[x0,top,mid,tipTop,x1,top].join(","),fill:colorFn(vMax)});
  
  
  const dn=make("polygon",g,{points:[x0,bottom,mid,tipBottom,x1,bottom].join(","),fill:colorFn(vMin)});
  
  
  const o=make("polygon",g,{points:[x0,top,mid,tipTop,x1,top,x1,bottom,mid,tipBottom,x0,bottom].join(","),fill:"none",stroke:"#5d6266","stroke-width":2.5});
  
  
  ticks.forEach(v=>{
    const t=make("line",g,{x1:x0+(x1-x0)*.25,x2:x1,y1:y(v),y2:y(v),stroke:"#333",opacity:.5,"stroke-width":2.5});
    
    
    const l=make("text",g,{x:labelX,y:y(v)+fontSize*.37,"font-size":fontSize});
    
    
    l.textContent=(v<0?"\u2212":"")+Math.abs(v).toFixed(digits);
  });
}

// ---------- panel: dz ----------
(function(){
  const root=document.getElementById("panel-dz");
  const ax=axes(161,617,165,713,dzLonStart,dzLonEnd,dzLatBottom,dzLatTop);
  const clip=make("g",root,{"clip-path":"url(#clip-p1)"});
  
  
  drawBathy(clip,ax);

  const defs=document.querySelector("defs");
  const cp=make("clipPath",defs,{id:"dz-mask"});
  dzMaskLon.forEach((lons,i)=>{
    const p=make("polygon",cp,{points:pointsOf(ax,lons,dzMaskLat[i])});
    
    
  });
  const masked=make("g",clip,{"clip-path":"url(#dz-mask)"});
  
  
  const field=make("g",masked,{filter:"url(#soft)"});
  
  
  const rows=dzRows.length,cols=dzRows[0].length;
  const dLon=(dzLonEnd-dzLonStart)/cols,dLat=(dzLatTop-dzLatBottom)/rows;
  dzRows.forEach((row,j)=>row.forEach((v,i)=>{
    let x0=ax.x(dzLonStart+i*dLon),x1=ax.x(dzLonStart+(i+1)*dLon);
    let y0=ax.y(dzLatTop-j*dLat),y1=ax.y(dzLatTop-(j+1)*dLat);
    if(i===0)x0-=30; if(i===cols-1)x1+=30; if(j===0)y0-=30; if(j===rows-1)y1+=30;
    const r=make("rect",field,{x:x0.toFixed(1),y:y0.toFixed(1),width:(x1-x0+.6).toFixed(1),height:(y1-y0+.6).toFixed(1),fill:dzColor(v)});
    
    
  }));
  dzMaskLon.forEach((lons,i)=>{
    const p=make("polygon",clip,{points:pointsOf(ax,lons,dzMaskLat[i]),fill:"none",stroke:"#8f9ea6","stroke-width":5,"stroke-opacity":.85});
    
    
  });
  drawContours(clip,ax);
  redContourLon.forEach((lons,i)=>{
    const p=make("path",clip,{d:smoothPath(ax,lons,redContourLat[i]),fill:"none",stroke:redLineColor(redContourLevel[i]),"stroke-width":3});
    
    
  });
  drawFrame(root,ax,dzLonTicks,dzLatTicks,30,1,9,746);
  drawColorbar(root,643,662,263,612,247,633,dzBarTicks,dzColor,675,28,0,'dz-colorbar');
})();

// ---------- panel: spice ----------
(function(){
  const root=document.getElementById("panel-spice");
  const ax=axes(883,1525,278,835,bathyLonStart,bathyLonEnd,bathyLatBottom,bathyLatTop);
  const clip=make("g",root,{"clip-path":"url(#clip-p2)"});
  
  
  drawBathy(clip,ax);
  drawLand(clip,ax);
  drawContours(clip,ax);
  drawSections(clip,ax);
  drawTracks(clip,ax,trackSpice,thickBandSpice,spiceColor);

  [[pinkLonA,pinkLatA],[pinkLonB,pinkLatB]].forEach(pair=>{
    const p=make("polyline",clip,{points:pointsOf(ax,pair[0],pair[1]),fill:"none",stroke:"#f4bccb","stroke-width":3.5,"stroke-opacity":.85});
    
    
  });
  const core=make("polyline",clip,{points:pointsOf(ax,eddyCoreLon,eddyCoreLat),fill:"none",stroke:"#10dcdc","stroke-width":3.5});
  
  
  const drift=make("polyline",clip,{points:pointsOf(ax,driftLon,driftLat),fill:"none",stroke:"#ff00ff","stroke-width":3.5});
  
  
  const loop=make("path",clip,{d:smoothPath(ax,loopLon,loopLat),fill:"none",stroke:"#ff00ff","stroke-width":3.5});
  
  
  const h1=make("polygon",clip,{points:pointsOf(ax,headALon,headALat),fill:"#ff00ff"});
  
  
  const h2=make("polygon",clip,{points:pointsOf(ax,headBLon,headBLat),fill:"#ff00ff"});
  
  

  [[eddyArrowLon,eddyArrowLat,'eddy-arrow'],[offshoreArrowLon,offshoreArrowLat,'offshore-arrow']].forEach(a=>{
    const x0=ax.x(a[0][0]),y0=ax.y(a[1][0]),x1=ax.x(a[0][1]),y1=ax.y(a[1][1]);
    const d=Math.hypot(x1-x0,y1-y0),ux=(x1-x0)/d,uy=(y1-y0)/d;
    const l=make("line",clip,{x1:x0,y1:y0,x2:x1-ux*10,y2:y1-uy*10,stroke:"#14262c","stroke-width":3.5});
    
    
    const bx=x1-ux*18,by=y1-uy*18;
    const head=make("polygon",clip,{points:[x1,y1,bx-uy*8,by+ux*8,bx+uy*8,by-ux*8].join(","),fill:"#14262c"});
    
    
  });
  drawFrame(root,ax,mapLonTicks,mapLatTicks,24.5,1,9,865);
  drawColorbar(root,1565,1581,401,710,387,727,spiceBarTicks,spiceColor,1590,23,2,'spice-colorbar');
})();

// ---------- panel: O2 ----------
(function(){
  const root=document.getElementById("panel-o2");
  const ax=axes(1779,2421,278,835,bathyLonStart,bathyLonEnd,bathyLatBottom,bathyLatTop);
  const clip=make("g",root,{"clip-path":"url(#clip-p3)"});
  
  
  drawBathy(clip,ax);
  drawLand(clip,ax);
  drawContours(clip,ax);
  drawSections(clip,ax);
  drawTracks(clip,ax,trackO2,thickBandO2,o2Color);
  drawFrame(root,ax,mapLonTicks,mapLatTicks,24.5,1,9,865);
  drawColorbar(root,2461,2477,401,710,387,727,o2BarTicks,o2Color,2487,23,0,'o2-colorbar');
})();

// keep annotations above the map panels
const figure=document.getElementById("fig");
figure.appendChild(document.getElementById("dz-annotations"));
figure.appendChild(document.getElementById("spice-annotations"));
</script>
</body>
</html>
